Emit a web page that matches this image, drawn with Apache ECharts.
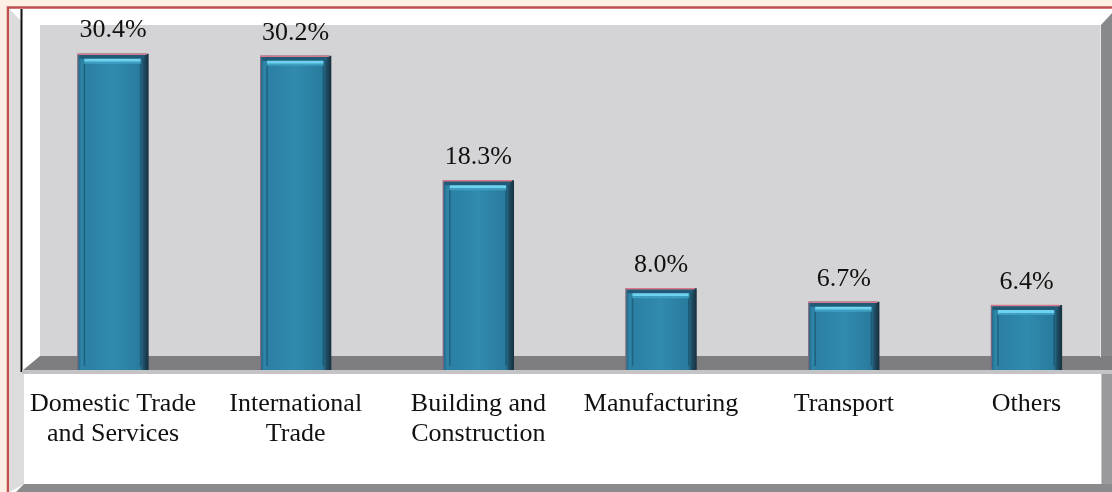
<!DOCTYPE html>
<html>
<head>
<meta charset="utf-8">
<title>Sector share</title>
<script src="https://cdn.jsdelivr.net/npm/echarts@6/dist/echarts.min.js"></script>
<style>
  html, body { margin: 0; padding: 0; background: #fdefe4; }
  #chart { width: 1112px; height: 492px; }
</style>
</head>
<body>
<div id="chart"></div>
<script>
// Sectors and their share, in percent
const categories = [
  'Domestic Trade\nand Services',
  'International\nTrade',
  'Building and\nConstruction',
  'Manufacturing',
  'Transport',
  'Others'
];
const shares = [30.4, 30.2, 18.3, 8.0, 6.7, 6.4];

const SERIF = '"Liberation Serif", "Times New Roman", serif';

// Bevelled 3D-looking column drawn through the axis scales
function renderColumn(params, api) {
  const idx = api.value(0);
  const val = api.value(1);
  const top = api.coord([idx, val]);
  const base = api.coord([idx, 0]);
  const cx = top[0];
  const w = api.size([1, 0])[0] * 0.39;
  const x0 = cx - w / 2;
  const x1 = cx + w / 2;
  const y0 = top[1];
  const h = base[1] - y0;

  const bodyFill = new echarts.graphic.LinearGradient(0, 0, 1, 0, [
    { offset: 0, color: '#235f7c' },
    { offset: 0.06, color: '#2e86a9' },
    { offset: 0.12, color: '#2b80a4' },
    { offset: 0.5, color: '#308bae' },
    { offset: 0.88, color: '#297b9d' },
    { offset: 0.93, color: '#1f4d64' },
    { offset: 1, color: '#172f3d' }
  ]);

  return {
    type: 'group',
    children: [
      { type: 'rect', shape: { x: x0, y: y0, width: w, height: h }, style: { fill: bodyFill } },
      // darker top band
      { type: 'rect', shape: { x: x0 + 2, y: y0, width: w - 6, height: 5 }, style: { fill: '#215a76' } },
      // top highlight
      { type: 'rect', shape: { x: x0 + 7, y: y0 + 5, width: w - 15, height: 3 }, style: { fill: '#6fd3ef' } },
      { type: 'rect', shape: { x: x0 + 7, y: y0 + 8, width: w - 15, height: 2 }, style: { fill: '#3f9fc2' } },
      // inner bevel lines
      { type: 'line', shape: { x1: x0 + 7, y1: y0 + 10, x2: x0 + 7, y2: base[1] - 6 }, style: { stroke: 'rgba(22,70,95,0.55)', lineWidth: 1.5 } },
      { type: 'line', shape: { x1: x1 - 8, y1: y0 + 10, x2: x1 - 8, y2: base[1] - 6 }, style: { stroke: 'rgba(22,70,95,0.55)', lineWidth: 1.5 } },
      // pinkish rim on top and left
      { type: 'line', shape: { x1: x0, y1: y0 + 0.5, x2: x1 - 2, y2: y0 + 0.5 }, style: { stroke: '#d9788a', lineWidth: 1.5 } },
      { type: 'line', shape: { x1: x0 + 0.5, y1: y0, x2: x0 + 0.5, y2: base[1] }, style: { stroke: 'rgba(200,110,130,0.6)', lineWidth: 1 } },
      // value label
      {
        type: 'text',
        x: cx,
        y: y0 - 10,
        style: {
          text: val.toFixed(1) + '%',
          fill: '#111111',
          font: '26px ' + SERIF,
          align: 'center',
          verticalAlign: 'bottom'
        }
      }
    ]
  };
}

const chart = echarts.init(document.getElementById('chart'), null, { renderer: 'canvas' });

chart.setOption({
  animation: false,
  backgroundColor: '#fdefe4',
  // columns sit on the category ticks, first at x=113 and last at x=1026.5
  grid: { left: 113, top: 5.5, right: 85.5, bottom: 120 },
  xAxis: {
    type: 'category',
    data: categories,
    boundaryGap: false,
    axisLine: { show: false },
    axisTick: { show: false },
    axisLabel: {
      interval: 0,
      margin: 17,
      color: '#111111',
      fontFamily: SERIF,
      fontSize: 26,
      lineHeight: 30,
      align: 'center'
    }
  },
  yAxis: {
    type: 'value',
    min: 0,
    max: 35,
    show: false,
    splitLine: { show: false }
  },
  graphic: [
    // outer frame and panel
    { type: 'rect', z: -10, shape: { x: 9, y: 8, width: 1103, height: 484 }, style: { fill: '#ffffff' } },
    { type: 'polyline', z: -9, shape: { points: [[8, 492], [8, 7.5], [1112, 7.5]] }, style: { stroke: '#c0504d', lineWidth: 2.5, fill: null } },
    // left bevel strip
    { type: 'polygon', z: -9, shape: { points: [[9.5, 9], [22, 22], [22, 372], [24, 374], [24, 484], [9.5, 492]] }, style: { fill: '#dcdcdc' } },
    // back wall
    { type: 'rect', z: -9, shape: { x: 40, y: 25, width: 1061, height: 332 }, style: { fill: '#d4d4d6' } },
    // right side wall
    { type: 'polygon', z: -9, shape: { points: [[1101, 25], [1112, 13], [1112, 372], [1101, 372]] }, style: { fill: '#88898d' } },
    { type: 'line', z: -8, shape: { x1: 1100.5, y1: 25, x2: 1100.5, y2: 357 }, style: { stroke: '#e6e6e8', lineWidth: 1 } },
    // floor
    { type: 'polygon', z: -9, shape: { points: [[22, 371], [40, 356], [1112, 356], [1112, 371]] }, style: { fill: '#7e7e80' } },
    // y axis line
    { type: 'line', z: -8, shape: { x1: 21.5, y1: 9, x2: 21.5, y2: 372 }, style: { stroke: '#111111', lineWidth: 2 } },
    // front edge of the floor, above the columns
    { type: 'rect', z: 20, shape: { x: 22, y: 370, width: 1090, height: 4 }, style: { fill: '#c4c4c6' } },
    // lower label panel borders
    { type: 'rect', z: -9, shape: { x: 1101, y: 374, width: 11, height: 118 }, style: { fill: '#9a9a9c' } },
    { type: 'line', z: -8, shape: { x1: 1101.5, y1: 374, x2: 1101.5, y2: 484 }, style: { stroke: '#c8c8ca', lineWidth: 1 } },
    { type: 'polygon', z: -9, shape: { points: [[16, 492], [24, 484], [1101, 484], [1112, 484], [1112, 492]] }, style: { fill: '#8b8b8d' } }
  ],
  series: [
    {
      type: 'custom',
      renderItem: renderColumn,
      encode: { x: 0, y: 1 },
      data: shares.map((v, i) => [i, v]),
      z: 5
    }
  ]
});
</script>
</body>
</html>
